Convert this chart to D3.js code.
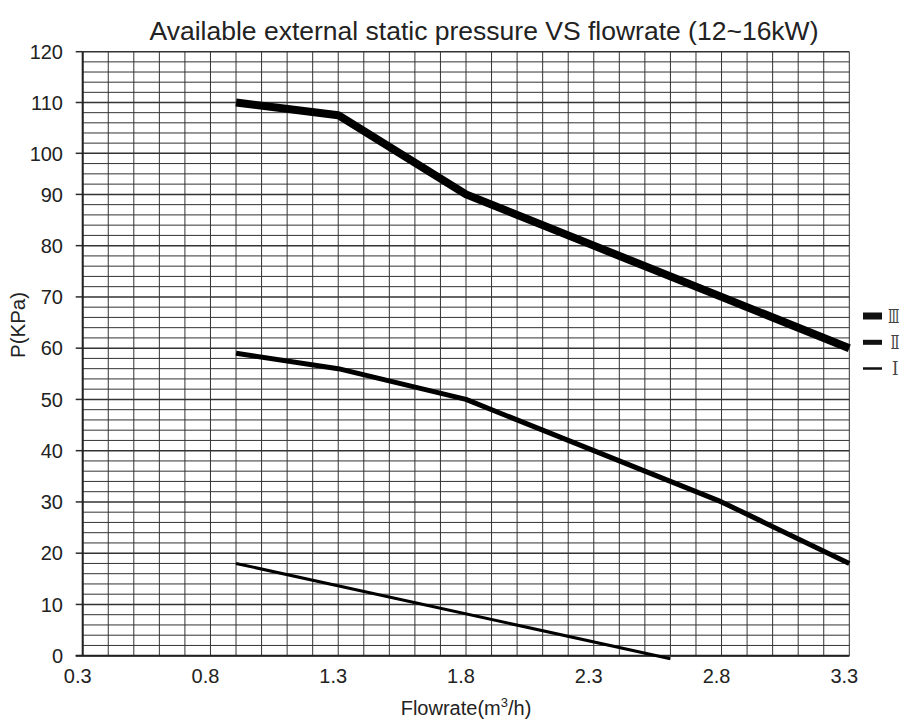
<!DOCTYPE html>
<html><head><meta charset="utf-8">
<script src="https://cdn.jsdelivr.net/npm/d3@7"></script>
<style>body{margin:0;background:#fff}svg{display:block}</style>
</head><body>
<svg id="c" width="904" height="720"></svg>
<script>
// ---- data ----
const xValues   = [0.9, 1.3, 1.8, 2.3, 2.8, 3.3];
const seriesIII = [110, 107.5, 90, 80, 70, 60];
const seriesII  = [59, 56, 50, 40, 30, 18];
const seriesIX  = [0.9, 2.6];
const seriesI   = [18, -0.6];
const xTicks = [0.3, 0.8, 1.3, 1.8, 2.3, 2.8, 3.3];
const yTicks = [0, 10, 20, 30, 40, 50, 60, 70, 80, 90, 100, 110, 120];
const legendLabels = ["Ⅲ", "Ⅱ", "Ⅰ"];
const titleText = "Available external static pressure VS flowrate (12~16kW)";

// ---- layout ----
const svg = d3.select("#c");
const pL = 82.7, pR = 849.3, pT = 51.7, pB = 655.7;
const x = d3.scaleLinear().domain([0.3, 3.3]).range([pL, pR]);
// the source grid is slightly irregular: the 90–100 band is compressed
const y = d3.scaleLinear().domain([0, 90, 100, 120]).range([pB, 194.4, 153.3, pT]);

const sans = "'Liberation Sans', Arial, sans-serif";

// grid: verticals every 0.1
const vLines = d3.range(0, 31).map(i => +(0.3 + i * 0.1).toFixed(2));
svg.append("g").selectAll("line").data(vLines).join("line")
  .attr("x1", d => x(d)).attr("x2", d => x(d))
  .attr("y1", pT).attr("y2", pB)
  .attr("stroke", "#333").attr("stroke-width", 1);

// horizontals: every 2, except 90–100 band which has 4 sub-divisions
const hLines = d3.range(0, 91, 2).concat([92.5, 95, 97.5]).concat(d3.range(100, 121, 2));
svg.append("g").selectAll("line").data(hLines).join("line")
  .attr("x1", pL).attr("x2", pR)
  .attr("y1", d => y(d)).attr("y2", d => y(d))
  .attr("stroke", "#333").attr("stroke-width", d => d % 10 === 0 ? 1.5 : 1);

// y axis ticks (extend left of plot)
svg.append("g").selectAll("line").data(yTicks).join("line")
  .attr("x1", pL - 7).attr("x2", pL)
  .attr("y1", d => y(d)).attr("y2", d => y(d))
  .attr("stroke", "#2a2a2a").attr("stroke-width", 1.5);

// axes lines
svg.append("line").attr("x1", pL).attr("x2", pL).attr("y1", pT).attr("y2", pB)
  .attr("stroke", "#222").attr("stroke-width", 2);
svg.append("line").attr("x1", pL - 7).attr("x2", pR).attr("y1", pB).attr("y2", pB)
  .attr("stroke", "#222").attr("stroke-width", 2);

// y tick labels
svg.append("g").selectAll("text").data(yTicks).join("text")
  .attr("x", 63).attr("y", d => y(d)).attr("dy", "0.36em")
  .attr("text-anchor", "end").attr("font-family", sans).attr("font-size", 20)
  .attr("fill", "#222").text(d => d);

// x tick labels
svg.append("g").selectAll("text").data(xTicks).join("text")
  .attr("x", d => x(d) - 5).attr("y", 683)
  .attr("text-anchor", "middle").attr("font-family", sans).attr("font-size", 20)
  .attr("fill", "#222").text(d => d.toFixed(1));

// series lines
const line = d3.line().x(d => x(d[0])).y(d => y(d[1]));
const drawSeries = (xs, ys, w) => svg.append("path")
  .attr("d", line(xs.map((v, i) => [v, ys[i]])))
  .attr("fill", "none").attr("stroke", "#000").attr("stroke-width", w)
  .attr("stroke-linejoin", "round");
drawSeries(xValues, seriesIII, 8);
drawSeries(xValues, seriesII, 5);
drawSeries(seriesIX, seriesI, 3);

// legend
const legendW = [7, 5, 2.5];
const legendY = [316, 342.3, 368.5];
const legendTX = [888, 890.5, 892];
const legendTL = [11.5, 9, 6.5];
const lg = svg.append("g");
legendLabels.forEach((t, i) => {
  lg.append("rect").attr("x", 863).attr("width", 19)
    .attr("y", legendY[i] - legendW[i] / 2).attr("height", legendW[i]).attr("fill", "#111");
  const tx = lg.append("text").attr("x", 0).attr("y", 0).attr("dy", "0.36em")
    .attr("font-family", "'DejaVu Serif', 'Liberation Serif', serif").attr("font-size", 19)
    .attr("fill", "#444").text(t);
  const w = tx.node().getComputedTextLength() || legendTL[i];
  const s = Math.min(1, legendTL[i] / w);
  tx.attr("transform", `translate(${legendTX[i]},${legendY[i]}) scale(${s},1)`);
});

// title
svg.append("text").attr("x", 484).attr("y", 39.5).attr("text-anchor", "middle")
  .attr("font-family", sans).attr("font-size", 26.5).attr("fill", "#222").text(titleText);

// axis titles
const xt = svg.append("text").attr("x", 466).attr("y", 715).attr("text-anchor", "middle")
  .attr("font-family", sans).attr("font-size", 20).attr("fill", "#222");
xt.append("tspan").text("Flowrate(m");
xt.append("tspan").attr("font-size", 13).attr("dy", -8).text("3");
xt.append("tspan").attr("dy", 8).text("/h)");

svg.append("text").attr("transform", "translate(25,325) rotate(-90)")
  .attr("text-anchor", "middle").attr("font-family", sans).attr("font-size", 20.5)
  .attr("fill", "#222").text("P(KPa)");
</script>
</body></html>
